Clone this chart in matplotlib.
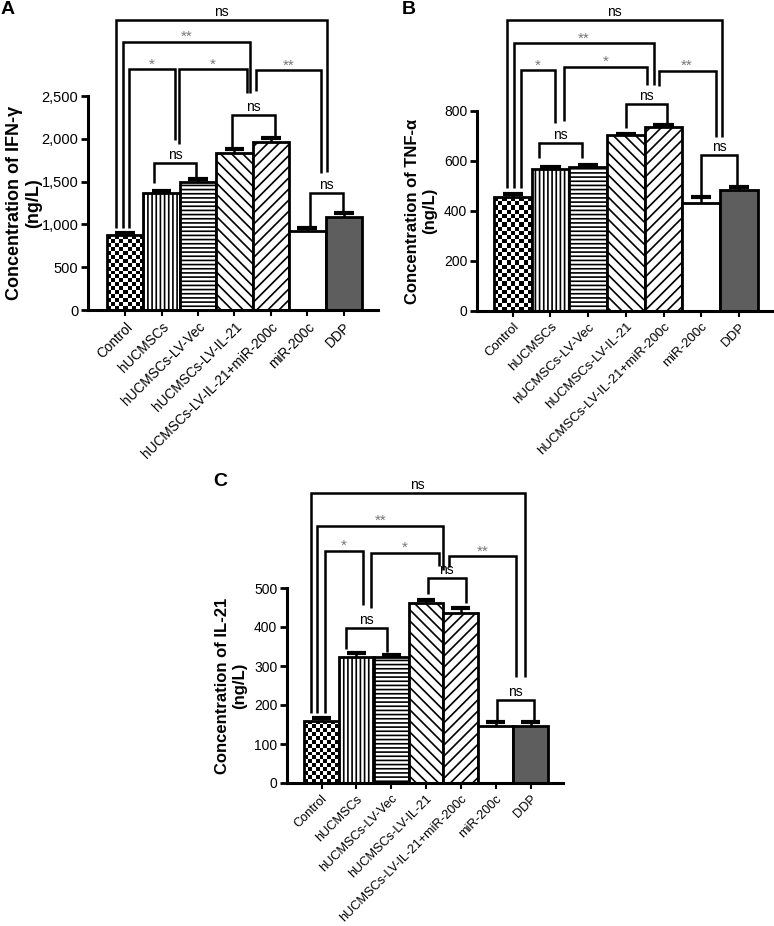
import numpy as np
import matplotlib
matplotlib.use("Agg")
import matplotlib.pyplot as plt

plt.rcParams["font.family"] = ["Liberation Sans", "DejaVu Sans"]
plt.rcParams["hatch.linewidth"] = 1.2

# Groups (same for the three panels)
groups = ["Control", "hUCMSCs", "hUCMSCs-LV-Vec", "hUCMSCs-LV-IL-21",
          "hUCMSCs-LV-IL-21+miR-200c", "miR-200c", "DDP"]

# A: IFN-gamma (ng/L)
ifn_mean = [876, 1363, 1499, 1830, 1966, 923, 1090]
ifn_err = [27, 30, 27, 50, 46, 31, 39]

# B: TNF-alpha (ng/L)
tnf_mean = [455, 567, 577, 704, 737, 433, 484]
tnf_err = [12, 10, 6, 4, 8, 22, 13]

# C: IL-21 (ng/L)
il21_mean = [160, 322, 322, 461, 437, 146, 146]
il21_err = [6, 12, 6, 7, 12, 10, 10]

# significance brackets: left x, right x, top, left leg end, right leg end, label
ifn_brackets = [
    (-0.26, 5.53, 3388, 961, 1612, "ns"),
    (-0.07, 3.44, 3134, 961, 2531, "**"),
    (0.11, 1.37, 2811, 961, 1986, "*"),
    (1.48, 3.35, 2811, 1939, 2531, "*"),
    (3.58, 5.37, 2803, 2561, 1597, "**"),
    (2.94, 4.11, 2278, 1907, 2024, "ns"),
    (0.79, 1.94, 1713, 1480, 1538, "ns"),
    (5.07, 5.98, 1363, 973, 1148, "ns"),
]
tnf_brackets = [
    (-0.15, 5.56, 1164, 492, 697, "ns"),
    (0.03, 3.74, 1071, 492, 904, "**"),
    (0.21, 1.12, 964, 492, 751, "*"),
    (1.36, 3.55, 977, 761, 904, "*"),
    (3.87, 5.38, 961, 900, 697, "**"),
    (3.01, 4.10, 827, 731, 751, "ns"),
    (0.70, 1.83, 673, 611, 611, "ns"),
    (4.98, 5.96, 624, 457, 504, "ns"),
]
il21_brackets = [
    (-0.31, 5.84, 743, 179, 273, "ns"),
    (-0.12, 3.50, 660, 179, 546, "**"),
    (0.10, 1.18, 596, 179, 456, "*"),
    (1.41, 3.38, 590, 450, 556, "*"),
    (3.67, 5.58, 582, 553, 273, "**"),
    (3.05, 4.14, 525, 485, 462, "ns"),
    (0.70, 1.87, 397, 343, 337, "ns"),
    (5.03, 6.10, 213, 160, 160, "ns"),
]

hatches = ["", "||||", "----", "\\\\\\", "///", "", ""]
faces = ["none", "white", "white", "white", "white", "white", "#5e5e5e"]


def draw_panel(ax, means, errs, ymax, step, ylabel, brackets, xlim,
               tick_fs, label_fs, xtick_fs, label_x):
    x = np.arange(len(groups))
    ax.set_xlim(*xlim)
    ax.set_ylim(0, ymax)

    bars = ax.bar(x, means, width=1.0, color=faces, edgecolor="black",
                  linewidth=2, zorder=2)
    for b, h in zip(bars, hatches):
        b.set_hatch(h)

    # checkerboard fill for the control bar
    b0 = bars[0]
    bb = b0.get_window_extent()
    ncol = 9
    nrow = max(1, int(round(bb.height / (bb.width / ncol))))
    checker = np.indices((nrow, ncol)).sum(axis=0) % 2
    im = ax.imshow(checker, cmap="gray", origin="lower", aspect="auto",
                   interpolation="nearest", zorder=1,
                   extent=(b0.get_x(), b0.get_x() + b0.get_width(), 0, b0.get_height()))
    im.set_clip_path(b0)
    ax.set_xlim(*xlim)
    ax.set_ylim(0, ymax)

    # upper error bars only
    top = np.array(means) + np.array(errs)
    ax.vlines(x, means, top, color="black", lw=1.8, zorder=3)
    ax.hlines(top, x - 0.27, x + 0.27, color="black", lw=3, zorder=3)

    for xl, xr, ytop, yl, yr, lab in brackets:
        ax.plot([xl, xl, xr, xr], [yl, ytop, ytop, yr], color="black", lw=1.8,
                clip_on=False, solid_joinstyle="miter", solid_capstyle="butt")
        ns = lab == "ns"
        ax.annotate(lab, xy=((xl + xr) / 2, ytop), xytext=(0, 3 if ns else 0.5),
                    textcoords="offset points", ha="center", va="baseline",
                    fontsize=10 if ns else 11, color="black" if ns else "#777777",
                    annotation_clip=False)

    for s in ["top", "right"]:
        ax.spines[s].set_visible(False)
    for s in ["left", "bottom"]:
        ax.spines[s].set_linewidth(2.2)

    yt = np.arange(0, ymax + 1, step)
    ax.set_yticks(yt)
    ax.set_yticklabels([f"{v:,.0f}" for v in yt])
    ax.tick_params(axis="y", length=5, width=2, labelsize=tick_fs, pad=2)
    ax.tick_params(axis="x", length=4, width=1.5, pad=3)
    ax.set_xticks(x)
    ax.set_xticklabels(groups, rotation=45, ha="right", rotation_mode="anchor",
                       fontsize=xtick_fs)
    ax.set_ylabel(ylabel, fontsize=label_fs, fontweight="bold", linespacing=1.15)
    ax.yaxis.set_label_coords(label_x, 0.5)


W, H = 774, 926
fig = plt.figure(figsize=(W / 100, H / 100), dpi=100)

axA = fig.add_axes([88 / W, (H - 310) / H, 290 / W, 214 / H])
axB = fig.add_axes([477 / W, (H - 311) / H, 297 / W, 200 / H])
axC = fig.add_axes([287 / W, (H - 783) / H, 276 / W, 195 / H])

draw_panel(axA, ifn_mean, ifn_err, 2500, 500, "Concentration of IFN-γ\n(ng/L)",
           ifn_brackets, (-1.02, 6.94), 10.5, 13, 9.8, -0.159)
draw_panel(axB, tnf_mean, tnf_err, 800, 200, "Concentration of TNF-α\n(ng/L)",
           tnf_brackets, (-0.95, 6.93), 10, 12, 9.5, -0.135)
draw_panel(axC, il21_mean, il21_err, 500, 100, "Concentration of IL-21\n(ng/L)",
           il21_brackets, (-0.99, 6.93), 10, 12, 9.2, -0.145)

fig.text(1 / W, 1 - 9 / H, "A", fontsize=14, fontweight="bold", va="center")
fig.text(402 / W, 1 - 9 / H, "B", fontsize=14, fontweight="bold", va="center")
fig.text(213 / W, 1 - 481 / H, "C", fontsize=14, fontweight="bold", va="center")

fig.savefig("out.png", dpi=100)
